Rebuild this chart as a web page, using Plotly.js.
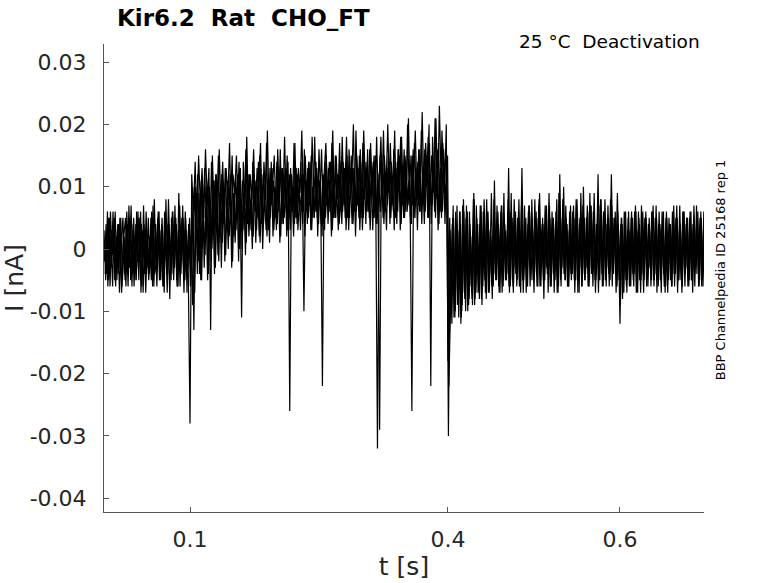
<!DOCTYPE html>
<html>
<head>
<meta charset="utf-8">
<script src="https://cdn.plot.ly/plotly-3.0.1.min.js"></script>
<style>
  body { margin: 0; background: #fff; }
  #chart { width: 778px; height: 583px; }
</style>
</head>
<body>
<div id="chart"></div>
<script>
// sample spacing of the sweeps, in seconds
var dt = 0.002;
// sampling phase of each sweep (s)
var phase = [0, 0.0005, 0.001, 0.0015];

// sweep 1, current in pA, one value every dt
var sweep1 = [
  3,-5,6,-4,2,-6,5,-3,4,-7,
  1,5,-4,3,-6,5,-2,4,-5,6,
  -3,2,-6,7,-4,3,-5,1,5,-6,
  4,-2,6,-5,3,-7,8,-4,2,-5,
  6,-3,4,-6,7,-2,5,-5,3,-4,
  // 0.1 s step
  -28,12,6,14,4,15,7,13,5,16,
  8,13,-13,15,6,12,3,16,7,14,
  5,13,8,17,4,12,9,15,6,13,
  -11,14,7,18,5,12,8,16,6,13,
  9,17,4,14,8,19,6,12,10,15,
  5,16,8,13,7,18,6,14,-26,12,
  7,17,5,13,9,19,6,15,8,14,
  6,18,9,13,5,16,8,-22,12,17,
  7,14,10,19,6,15,8,17,5,14,
  9,18,7,13,10,20,6,15,8,16,
  7,19,10,14,6,17,9,15,8,-32,
  11,18,7,15,10,20,8,14,9,19,
  6,16,10,18,8,15,11,21,7,-26,
  12,19,8,16,10,22,9,17,11,20,
  -22,18,10,21,8,23,11,17,9,20,
  // 0.4 s step
  -18,5,-9,7,-11,4,-8,6,-10,8,
  -7,5,-9,3,-8,9,-6,4,-7,6,
  -5,8,-3,5,-7,2,-6,11,-4,6,
  -2,7,-6,4,-5,8,-3,5,-7,3,
  -6,6,-4,13,-5,2,-6,7,-3,5,
  -7,4,-2,8,-6,5,-5,3,-4,7,
  -6,5,-3,4,-7,12,-4,6,-5,3,
  -6,4,-2,7,-5,8,-3,5,-6,4,
  -4,7,-6,5,-3,9,-5,6,-2,8,
  -5,4,-6,7,-3,12,-4,5,-6,4,
  // 0.6 s
  -12,5,-6,4,-7,6,-5,3,-6,7,
  -4,5,-7,4,-5,6,-3,5,-6,4,
  -5,7,-4,3,-7,5,-6,6,-4,4,
  -6,5,-3,7,-5,4,-7,6,-4,5,
  -6,4,-5,7,-3,5,-6,6,-4,5,-2
];

// sweep 2, current in pA
var sweep2 = [
  -2,4,-6,5,-3,6,-5,2,-4,5,
  -7,3,-5,6,-2,4,-6,5,-4,3,
  -5,6,-3,4,-7,2,-4,5,-6,8,
  -3,5,-5,3,-6,6,-2,4,-8,5,
  -4,7,-5,3,-6,5,-3,6,-7,4,
  -6,8,-13,10,-4,9,-5,11,-3,7,
  -5,10,-2,8,-4,12,-1,9,-3,11,
  -2,8,0,12,-3,9,1,10,-2,13,
  0,9,-1,11,2,8,0,12,1,10,
  2,13,0,9,3,11,1,14,2,10,
  3,12,1,9,4,13,2,11,3,10,
  2,14,4,10,3,12,-10,11,4,13,
  3,10,5,14,2,11,4,12,3,15,
  4,11,2,13,5,10,3,14,4,12,
  5,15,3,11,4,13,2,12,5,14,
  3,12,4,16,5,11,3,13,4,12,
  -29,14,5,11,3,15,4,12,6,13,
  4,16,3,12,5,14,6,11,4,15,
  5,13,3,16,6,12,4,14,5,17,
  4,13,6,15,3,12,5,16,4,14,
  -30,3,-12,5,-10,7,-11,4,-9,6,
  -10,6,-8,2,-9,8,-7,4,-8,7,
  -6,4,-8,6,-4,9,-6,3,-5,4,
  -7,7,-5,3,-4,13,-6,5,-3,6,
  -5,8,-7,4,-3,5,-6,7,-5,3,
  -4,6,-6,9,-3,4,-5,7,-7,5,
  -4,5,-5,8,-6,6,-3,10,-5,4,
  -6,7,-4,5,-5,6,-7,9,-4,5,
  -3,6,-5,7,-6,4,-4,12,-5,6,
  -6,8,-3,5,-5,7,-4,6,-6,3,
  -9,4,-7,6,-5,3,-6,5,-4,6,
  -7,4,-5,6,-3,5,-6,3,-5,7,
  -4,5,-6,4,-3,6,-7,5,-5,4,
  -6,7,-4,5,-5,3,-6,6,-3,5,
  -5,6,-7,4,-4,6,-5,5,-6,4,-3
];

// sweep 3, current in pA
var sweep3 = [
  1,-4,5,-6,3,-2,6,-5,4,-3,
  -6,2,5,-4,7,-5,3,-6,4,-2,
  5,-7,3,-4,6,-3,2,-5,7,-4,
  -2,6,-5,4,-6,3,-4,8,-3,5,
  -5,4,-6,9,-2,3,-7,5,-4,2,
  2,-9,10,3,12,-4,11,2,13,4,
  10,1,14,3,11,5,15,2,12,4,
  13,3,10,6,15,2,12,5,14,3,
  11,6,16,4,12,3,14,7,11,5,
  15,4,12,6,17,3,13,7,11,5,
  14,6,16,4,12,7,15,5,13,6,
  17,5,12,8,14,4,16,6,13,7,
  15,5,18,6,12,8,16,4,14,7,
  13,6,17,5,15,8,12,6,18,7,
  14,5,16,8,13,6,19,7,15,5,
  17,8,13,6,16,9,14,5,18,7,
  15,8,19,6,13,9,17,7,16,5,
  14,9,18,7,16,6,20,8,15,7,
  17,9,14,6,19,8,16,10,18,7,
  15,9,21,8,17,6,19,10,16,8,
  -22,-8,4,-11,6,-9,3,-12,7,-7,
  5,-10,6,-6,3,-9,7,-7,4,-8,
  6,-5,8,-7,3,-6,5,-4,7,-6,
  4,-7,9,-5,3,-6,6,-5,8,-4,
  5,-6,3,-5,7,-7,4,-3,6,-5,
  8,-4,5,-6,3,-5,7,-3,5,-6,
  6,-4,4,-7,9,-5,5,-4,7,-6,
  3,-4,6,-5,8,-7,4,-3,7,-5,
  5,-6,9,-4,6,-5,4,-7,7,-4,
  6,-5,4,-4,8,-6,5,-3,9,-5,
  4,-8,6,-5,3,-6,5,-4,6,-7,
  3,-5,7,-4,5,-6,4,-3,6,-5,
  5,-7,4,-5,6,-4,3,-6,5,-5,
  6,-4,5,-7,3,-5,6,-3,4,-6,
  5,-5,4,-6,7,-4,5,-6,3,-5,2
];

// sweep 4, current in pA
var sweep4 = [
  -4,3,-5,6,-1,4,-6,3,-3,5,
  -5,2,-6,4,-3,7,-4,2,-5,6,
  -2,4,-7,3,-4,5,-3,6,-5,2,
  -6,4,-3,5,-5,3,-7,4,-2,6,
  -3,5,-6,2,-4,7,-5,3,-3,5,
  -3,6,-7,9,-2,8,-5,7,-1,10,
  -4,8,0,11,-3,7,-2,10,1,8,
  -1,11,2,7,-2,9,3,12,0,8,
  3,10,1,12,4,9,2,11,3,14,
  1,9,4,12,2,10,5,13,3,9,
  4,11,2,13,5,9,3,12,6,10,
  4,13,3,9,6,12,2,11,5,14,
  3,10,6,13,4,11,2,12,5,10,
  6,14,3,11,5,12,4,10,6,13,
  3,12,5,15,4,10,6,13,3,11,
  5,14,6,11,3,12,5,15,4,10,
  6,13,4,12,7,14,5,11,3,13,
  6,15,4,12,5,13,7,11,4,16,
  5,12,7,14,4,13,6,15,5,12,
  7,14,5,16,4,13,6,12,8,15,
  -14,-6,5,-10,3,-9,6,-11,4,-8,
  7,-9,4,-7,8,-8,5,-6,7,-9,
  4,-7,6,-6,3,-8,8,-5,5,-7,
  6,-6,4,-5,6,-7,9,-6,4,-4,
  4,-6,7,-7,3,-5,6,-6,8,-5,
  5,-6,7,-5,4,-8,6,-4,9,-6,
  4,-7,6,-5,5,-6,8,-4,5,-6,
  6,-5,4,-7,7,-5,5,-6,10,-5,
  5,-6,7,-4,6,-7,4,-5,8,-6,
  6,-5,5,-6,7,-4,4,-7,6,-5,
  5,-7,3,-6,5,-4,6,-5,4,-6,
  6,-4,3,-7,5,-5,4,-3,6,-6,
  4,-5,6,-4,3,-6,5,-7,4,-3,
  5,-6,4,-5,7,-4,3,-6,5,-4,
  6,-5,4,-3,5,-6,4,-5,6,-4,3
];

var sweeps = [sweep1, sweep2, sweep3, sweep4];

var xTicks = [0.1, 0.4, 0.6];
var xTickText = ['0.1', '0.4', '0.6'];
var yTicks = [-0.04, -0.03, -0.02, -0.01, 0, 0.01, 0.02, 0.03];
var yTickText = ['-0.04', '-0.03', '-0.02', '-0.01', '0', '0.01', '0.02', '0.03'];

function toTrace(vals, t0) {
  var t = [], y = [];
  for (var i = 0; i < vals.length; i++) {
    t.push(t0 + i * dt);
    y.push(vals[i] / 1000); // pA -> nA
  }
  return {
    x: t, y: y,
    type: 'scatter', mode: 'lines',
    line: {color: '#000', width: 1.2},
    hoverinfo: 'skip'
  };
}

var data = sweeps.map(function (s, k) { return toTrace(s, phase[k]); });

var font = 'DejaVu Sans, sans-serif';
var axisCol = '#555';
var textCol = '#262626';

var layout = {
  width: 778, height: 583,
  margin: {l: 104, r: 74, t: 44, b: 71},
  paper_bgcolor: '#fff', plot_bgcolor: '#fff',
  showlegend: false,
  font: {family: font, color: textCol},
  title: {
    text: '<b>Kir6.2  Rat  CHO_FT</b>',
    font: {family: font, size: 23, color: '#000'},
    xref: 'paper', x: 0.0217, xanchor: 'left',
    yref: 'container', y: 0.969, yanchor: 'middle'
  },
  xaxis: {
    range: [0, 0.6977],
    tickvals: xTicks, ticktext: xTickText,
    ticks: 'inside', ticklen: 5, tickcolor: axisCol,
    showgrid: false, zeroline: false,
    showline: true, linecolor: axisCol, linewidth: 1,
    tickfont: {size: 22, color: textCol},
    ticklabelstandoff: 8,
    title: {text: 't [s]', font: {size: 25, color: textCol}, standoff: 6}
  },
  yaxis: {
    range: [-0.0422, 0.0329],
    tickvals: yTicks, ticktext: yTickText,
    ticks: 'inside', ticklen: 5, tickcolor: axisCol,
    showgrid: false, zeroline: false,
    showline: true, linecolor: axisCol, linewidth: 1,
    tickfont: {size: 22, color: textCol},
    ticklabelstandoff: 12,
    title: {text: 'I [nA]', font: {size: 25, color: textCol}, standoff: 10}
  },
  annotations: [
    {
      text: '25 °C  Deactivation',
      xref: 'paper', yref: 'paper', x: 0.997, y: 1.005,
      xanchor: 'right', yanchor: 'middle', showarrow: false,
      font: {family: font, size: 18.5, color: '#000'}
    },
    {
      text: 'BBP Channelpedia ID 25168 rep 1',
      xref: 'paper', yref: 'paper', x: 1.027, y: 0.517,
      xanchor: 'center', yanchor: 'middle', showarrow: false,
      textangle: -90,
      font: {family: font, size: 13, color: '#000'}
    }
  ]
};

Plotly.newPlot('chart', data, layout, {displayModeBar: false, staticPlot: true});
</script>
</body>
</html>
